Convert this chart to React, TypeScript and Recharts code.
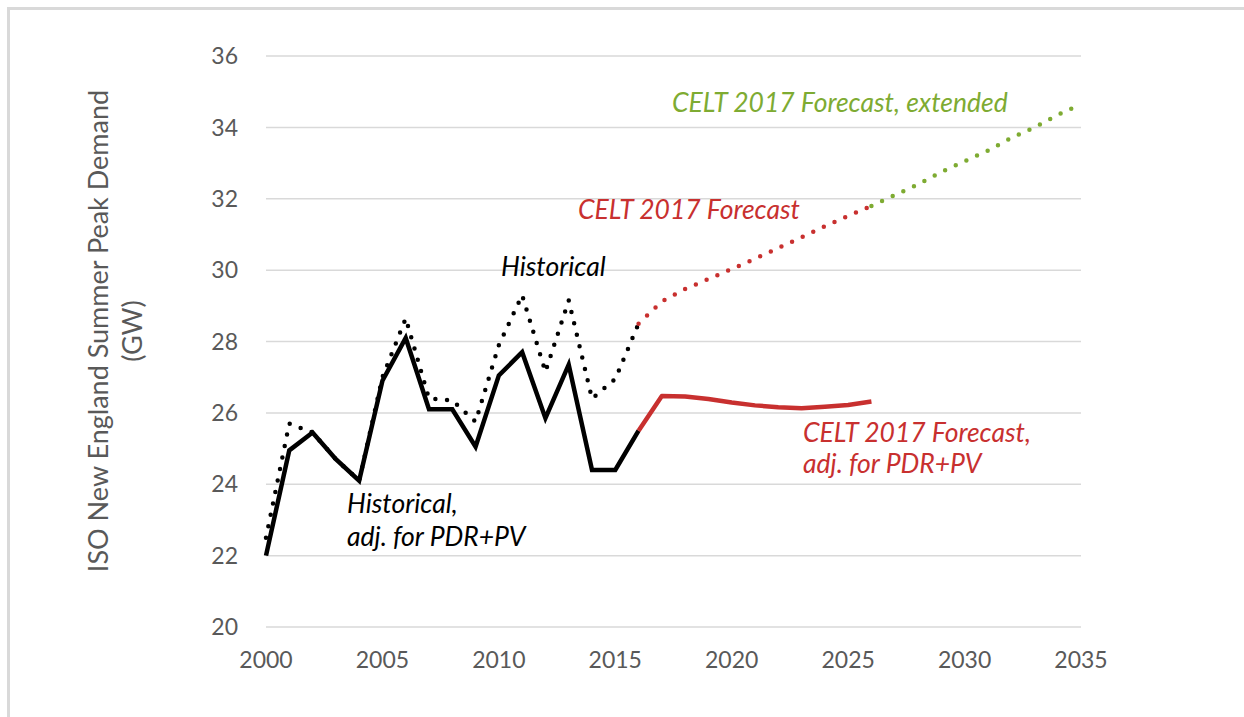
import { LineChart, Line, XAxis, YAxis, CartesianGrid } from 'recharts';

const histYears = [2000, 2001, 2002, 2003, 2004, 2005, 2006, 2007, 2008, 2009, 2010, 2011, 2012, 2013, 2014, 2015, 2016];
const historical = [22.5, 25.7, 25.45, 24.7, 24.1, 27.0, 28.65, 26.4, 26.35, 25.75, 27.9, 29.3, 27.15, 29.15, 26.4, 26.95, 28.5];
const historicalAdj = [22.0, 24.95, 25.45, 24.7, 24.1, 26.9, 28.1, 26.1, 26.1, 25.05, 27.05, 27.7, 25.85, 27.35, 24.4, 24.4, 25.5];

const forecastYears = [2016, 2017, 2018, 2019, 2020, 2021, 2022, 2023, 2024, 2025, 2026];
const celt = [28.5, 29.12, 29.47, 29.75, 30.03, 30.32, 30.62, 30.92, 31.23, 31.52, 31.8];
const celtAdj = [25.5, 26.47, 26.46, 26.39, 26.29, 26.21, 26.16, 26.13, 26.17, 26.22, 26.32];

const extYears = [2026, 2027, 2028, 2029, 2030, 2031, 2032, 2033, 2034, 2035];
const celtExt = [31.8, 32.1, 32.4, 32.75, 33.05, 33.35, 33.7, 34.0, 34.35, 34.65];

const xTicks = [2000, 2005, 2010, 2015, 2020, 2025, 2030, 2035];
const yTicks = [20, 22, 24, 26, 28, 30, 32, 34, 36];

const toRows = (years: number[], vals: number[]) => years.map((year, i) => ({ year, v: vals[i] }));

const RED = '#C8302F';
const GREEN = '#7EAB32';
const FONT = 'Lato, sans-serif';
const dots = { strokeWidth: 4.5, strokeDasharray: '0 11.7', strokeLinecap: 'round' as const };

export default function App() {
    return (
        <div style={{ position: 'absolute', left: 0, top: 0, width: 1244, height: 717, overflow: 'hidden', background: '#fff' }}>
            <div style={{ position: 'absolute', left: 7, top: 7, width: 1300, height: 800, border: '3px solid #d9d9d9' }} />
            <LineChart
                width={1244}
                height={717}
                margin={{ top: 56, right: 163, bottom: 0, left: 0 }}
                style={{ position: 'absolute', left: 0, top: 0, fontFamily: FONT }}
            >
                <CartesianGrid vertical={false} stroke="#d9d9d9" strokeWidth={1.5} />
                <XAxis
                    type="number"
                    dataKey="year"
                    domain={[2000, 2035]}
                    ticks={xTicks}
                    axisLine={false}
                    tickLine={false}
                    tickSize={0}
                    tickMargin={25}
                    height={90}
                    tick={{ fill: '#595959', fontSize: 23 }}
                    allowDuplicatedCategory={false}
                />
                <YAxis
                    type="number"
                    domain={[20, 36]}
                    ticks={yTicks}
                    axisLine={false}
                    tickLine={false}
                    tickSize={0}
                    tickMargin={28}
                    width={266}
                    tick={{ fill: '#595959', fontSize: 23 }}
                />
                <Line data={toRows(histYears, historical)} dataKey="v" stroke="#000" dot={false} isAnimationActive={false} {...dots} />
                <Line data={toRows(histYears, historicalAdj)} dataKey="v" stroke="#000" strokeWidth={4.5} dot={false} isAnimationActive={false} />
                <Line data={toRows(forecastYears, celt)} dataKey="v" stroke={RED} dot={false} isAnimationActive={false} {...dots} />
                <Line data={toRows(extYears, celtExt)} dataKey="v" stroke={GREEN} dot={false} isAnimationActive={false} {...dots} />
                <Line data={toRows(forecastYears, celtAdj)} dataKey="v" stroke={RED} strokeWidth={4.5} strokeLinejoin="round" dot={false} isAnimationActive={false} />
            </LineChart>
            <svg width={1244} height={717} style={{ position: 'absolute', left: 0, top: 0, pointerEvents: 'none', fontFamily: FONT }}>
                <g fill="#595959" fontSize={27} textAnchor="middle">
                    <text transform="translate(108,331) rotate(-90)">ISO New England Summer Peak Demand</text>
                    <text transform="translate(142,331) rotate(-90)">(GW)</text>
                </g>
                <g fontSize={26.5} fontStyle="italic">
                    <text x={501} y={276} fill="#000">Historical</text>
                    <text x={347} y={513} fill="#000">Historical,</text>
                    <text x={347} y={546} fill="#000">adj. for PDR+PV</text>
                    <text x={578} y={219} fill={RED}>CELT 2017 Forecast</text>
                    <text x={672} y={112} fill={GREEN}>CELT 2017 Forecast, extended</text>
                    <text x={803} y={442} fill={RED}>CELT 2017 Forecast,</text>
                    <text x={803} y={473} fill={RED}>adj. for PDR+PV</text>
                </g>
            </svg>
        </div>
    );
}
